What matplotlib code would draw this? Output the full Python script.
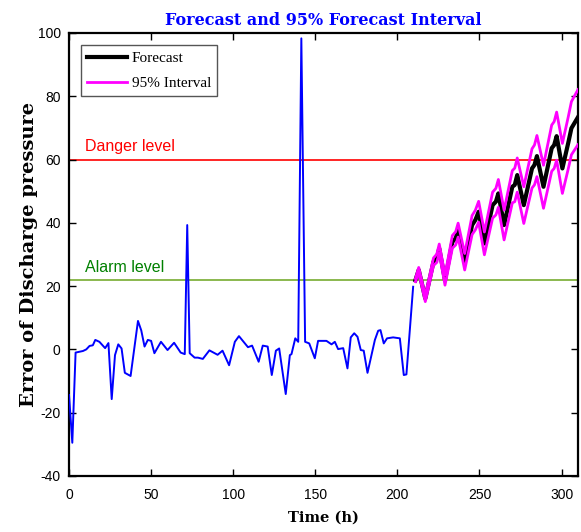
import matplotlib.pyplot as plt

plt.rcParams['axes.unicode_minus'] = False

# observed error of discharge pressure (hourly samples, first 210 h)
obs_t = [0, 2, 4, 8.5, 10.5, 12.5, 14.5, 16, 18.5, 22, 24, 26, 28, 30, 32, 34, 37.5,
         42, 44, 46, 48, 50, 52, 56, 60, 64, 68, 70.5, 72, 73.5, 76.5, 78.5, 81.5,
         85.5, 90.5, 93.5, 97.5, 101, 103.5, 109, 111.5, 115.5, 118, 121, 123.5, 126,
         128, 132, 134.5, 135.5, 137.8, 139.6, 141.5, 143.8, 146.3, 149.7, 151.7,
         156.8, 159.9, 161.9, 163.9, 167, 169.6, 171.6, 173.7, 175.7, 177.7, 179.5,
         181.8, 186.3, 188.3, 189.7, 191.7, 193.7, 197.4, 201.5, 203.9, 205.5, 209.6]
obs_v = [-14.4, -29.5, -1, -0.5, 0, 1.1, 1.3, 3, 2.4, 0.4, 2, -15.7, -1.8, 1.6, 0.3,
         -7.4, -8.4, 9, 6, 0.9, 3, 2.7, -1.2, 2.4, -0.2, 2.1, -1, -1.5, 39.3, -1.2,
         -2.6, -2.6, -3, -0.3, -1.7, -0.4, -5, 2.4, 4.2, 0.7, 1.2, -3.9, 1.2, 0.9,
         -8.1, -0.4, 0.3, -14.1, -1.8, -1.5, 3.5, 2.4, 98.3, 2.4, 1.9, -2.8, 2.7, 2.7,
         1.6, 2.4, 0.1, 0.4, -6, 3.8, 5.1, 4, -0.2, -0.4, -7.4, 3, 5.9, 6.1, 1.9, 3.5,
         3.8, 3.5, -8.1, -7.9, 19.8]

# forecast and 95% interval
fc_t = [211, 213, 217, 222, 224, 225.5, 229, 233.5, 235.5, 237, 241, 245.5, 247.5,
        249.5, 253, 258, 260, 261.5, 265, 270, 271.5, 273, 277, 282, 283.5, 285, 289,
        294, 295.5, 297, 300.5, 304, 306, 310]
fc_v = [21.9, 25.1, 16.1, 27.7, 28.8, 31.9, 21.9, 34.0, 35.1, 37.7, 27.7, 39.3, 40.9,
        43.5, 33.5, 45.6, 46.7, 49.3, 39.3, 51.4, 52.0, 55.1, 45.6, 57.2, 58.3, 61.1,
        51.4, 63.6, 64.6, 67.4, 57.2, 65.1, 69.9, 73.4]
fc_hi = [22.4, 25.9, 17.1, 28.9, 30.1, 33.3, 23.5, 36.0, 37.2, 39.9, 30.3, 42.3, 44.0,
         46.8, 37.1, 49.7, 50.9, 53.7, 44.0, 56.5, 57.3, 60.5, 51.4, 63.4, 64.6, 67.6,
         58.2, 70.9, 72.0, 75.0, 65.1, 73.3, 78.3, 82.1]
fc_lo = [21.4, 24.3, 15.1, 26.5, 27.5, 30.5, 20.3, 32.0, 33.0, 35.5, 25.1, 36.3, 37.8,
         40.2, 29.9, 41.5, 42.5, 44.9, 34.6, 46.3, 46.7, 49.7, 39.8, 51.0, 52.0, 54.6,
         44.6, 56.3, 57.2, 59.8, 49.3, 56.9, 61.5, 64.7]

danger = 60
alarm = 22

fig = plt.figure(figsize=(5.81, 5.32), dpi=100)
ax = fig.add_axes([0.1188, 0.1053, 0.876, 0.8327])

ax.axhline(danger, color='#ff0000', lw=1.2, zorder=1)
ax.axhline(alarm, color='#77ac30', lw=1.2, zorder=1)
ax.text(10, 61.8, 'Danger level', color='#ff0000', fontsize=11.5, family='Liberation Sans',
        va='bottom')
ax.text(10, 23.5, 'Alarm level', color='#008000', fontsize=11.5, family='Liberation Sans',
        va='bottom')

ax.plot(obs_t, obs_v, color='#0000ff', lw=1.4, zorder=3)
ax.plot(fc_t, fc_v, color='black', lw=3, label='Forecast', zorder=4)
ax.plot(fc_t, fc_hi, color='#ff00ff', lw=2, label='95% Interval', zorder=5)
ax.plot(fc_t, fc_lo, color='#ff00ff', lw=2, zorder=5)

ax.set_xlim(0, 310)
ax.set_ylim(-40, 100)
ax.set_xticks(range(0, 301, 50))
ax.set_yticks(range(-40, 101, 20))
ax.tick_params(direction='in', top=True, right=True, length=5, width=1,
               labelsize=10)
ax.tick_params(axis='x', pad=9)
ax.tick_params(axis='y', pad=6)
for lab in ax.get_xticklabels() + ax.get_yticklabels():
    lab.set_family('Liberation Sans')
for sp in ax.spines.values():
    sp.set_linewidth(1.6)

ax.set_title('Forecast and 95% Forecast Interval', color='#0000ff', fontsize=11.5,
             fontweight='bold', family='DejaVu Serif', pad=6)
ax.set_xlabel('Time (h)', fontsize=10.5, fontweight='bold', family='DejaVu Serif',
              labelpad=6)
ax.set_ylabel('Error of Discharge pressure', fontsize=14, fontweight='bold',
              family='DejaVu Serif', labelpad=0)

leg = ax.legend(loc='upper left', prop={'family': 'Liberation Serif', 'size': 11},
                fancybox=False, framealpha=1, edgecolor='#555555', handlelength=2.6,
                labelspacing=0.75, borderaxespad=0.8, handletextpad=0.3)

fig.savefig('out.png', dpi=100)
